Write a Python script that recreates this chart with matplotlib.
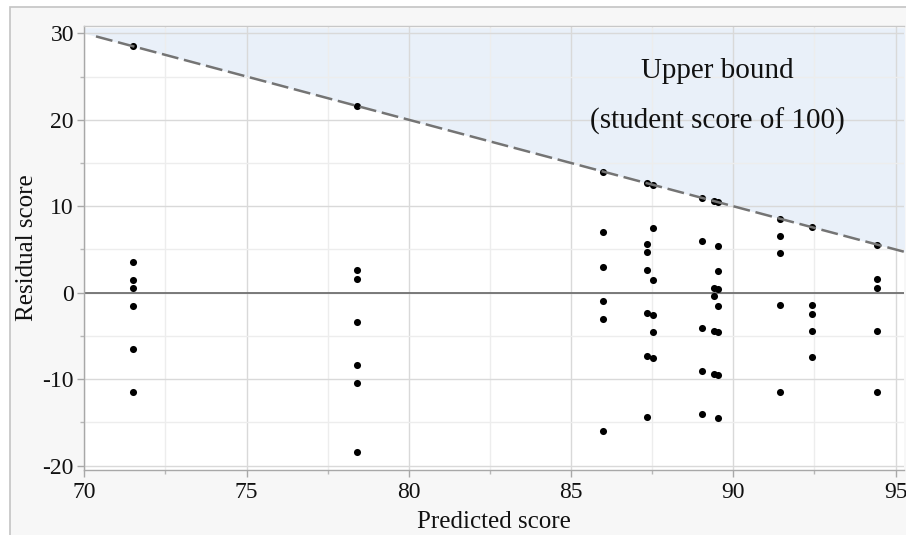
import matplotlib
matplotlib.use("Agg")
import matplotlib.pyplot as plt
from matplotlib.patches import Rectangle
from matplotlib.ticker import MultipleLocator
import numpy as np

# Predicted score for each group of students and the residuals observed in it
predicted = [71.5, 78.4, 86.0, 87.33, 87.54, 89.03, 89.42, 89.54, 91.44, 92.44, 94.44]
residuals = [
    [28.5, 3.5, 1.5, 0.5, -1.5, -6.5, -11.5],
    [21.6, 2.6, 1.6, -3.4, -8.4, -10.4, -18.4],
    [14.0, 7.0, 3.0, -1.0, -3.0, -16.0],
    [12.67, 5.67, 4.67, 2.67, -2.33, -7.33, -14.33],
    [12.46, 7.46, 1.46, -2.54, -4.54, -7.54],
    [10.97, 5.97, -4.03, -9.03, -14.03],
    [10.58, 0.58, -0.42, -4.42, -9.42],
    [10.46, 5.46, 2.46, 0.46, -1.54, -4.54, -9.54, -14.54],
    [8.56, 6.56, 4.56, -1.44, -11.44],
    [7.56, -1.44, -2.44, -4.44, -7.44],
    [5.56, 1.56, 0.56, -4.44, -11.44],
]
max_score = 100
x_ticks = [70, 75, 80, 85, 90, 95]
y_ticks = [-20, -10, 0, 10, 20, 30]
bound_label = ["Upper bound", "(student score of 100)"]
x_label = "Predicted score"
y_label = "Residual score"

plt.rcParams["font.family"] = ["Liberation Serif", "DejaVu Serif"]

fig = plt.figure(figsize=(9.06, 5.35), dpi=100)
fig.patch.set_facecolor("white")
frame = Rectangle((10 / 906, -0.05), 1.0, 1 - 7 / 535 + 0.05,
                  transform=fig.transFigure, facecolor="#f7f7f7",
                  edgecolor="#c4c4c4", linewidth=1.2, zorder=-10)
fig.add_artist(frame)

ax = fig.add_axes([84.3 / 906, 65 / 535, 820 / 906, 444.5 / 535])
ax.set_zorder(1)
ax.set_facecolor("white")
ax.set_xlim(70, 95.27)
ax.set_ylim(-20.5, 30.9)

# grid
ax.xaxis.set_major_locator(MultipleLocator(5))
ax.xaxis.set_minor_locator(MultipleLocator(2.5))
ax.yaxis.set_major_locator(MultipleLocator(10))
ax.yaxis.set_minor_locator(MultipleLocator(5))
ax.grid(which="major", color="#d9d9d9", linewidth=1.0, zorder=0)
ax.grid(which="minor", color="#ededed", linewidth=1.0, zorder=0)
ax.set_axisbelow(True)

# region above the upper bound (residual = 100 - predicted)
xb = np.array([69.0, 96.0])
ax.fill_between(xb, max_score - xb, 30.65, color="#e9f0f9", linewidth=0, zorder=0.5)

ax.axhline(0, color="#707070", linewidth=1.3, zorder=1)

for p, res in zip(predicted, residuals):
    ax.scatter([p] * len(res), res, s=26, color="black", linewidths=0, zorder=3)

xl = np.array([70.36, 96.0])
ax.plot(xl, max_score - xl, color="#747474", linewidth=1.8,
        dashes=(6.8, 2.3), zorder=4)

ax.text(89.5, 25.6, bound_label[0], ha="center", va="center", fontsize=21, color="#111111")
ax.text(89.5, 19.8, bound_label[1], ha="center", va="center", fontsize=21, color="#111111")

for s in ax.spines.values():
    s.set_color("#a8a8a8")
    s.set_linewidth(1.0)
ax.spines["top"].set_color("#c8c8c8")
ax.spines["right"].set_visible(False)

ax.set_xticks(x_ticks)
ax.set_yticks(y_ticks)
ax.set_xticklabels([str(v) for v in x_ticks])
ax.set_yticklabels([str(v) for v in y_ticks])
ax.tick_params(which="major", direction="out", length=5, width=1, color="#a8a8a8",
               labelsize=17, labelcolor="#111111")
ax.tick_params(axis="y", which="major", pad=2.5)
ax.tick_params(axis="x", which="major", pad=4)
ax.tick_params(which="minor", direction="out", length=3, width=1, color="#b8b8b8")

ax.set_xlabel(x_label, fontsize=18, color="#111111", labelpad=5.5)
ax.set_ylabel(y_label, fontsize=18, color="#111111", labelpad=3)

fig.savefig("out.png", dpi=100, facecolor=fig.get_facecolor())
